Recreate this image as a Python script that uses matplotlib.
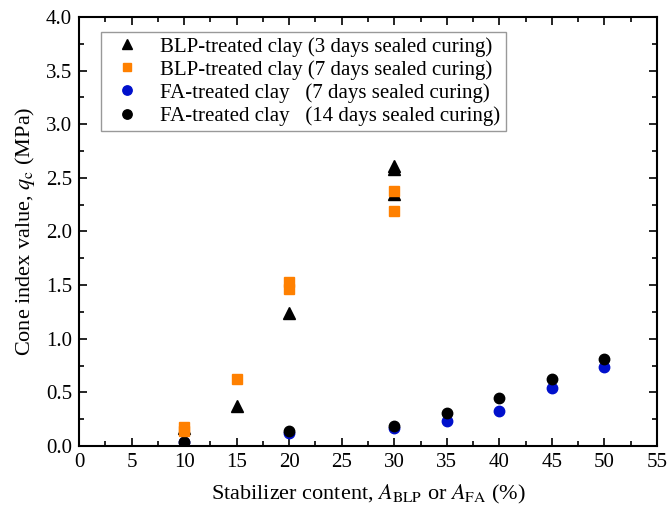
import matplotlib
matplotlib.use('Agg')
import matplotlib.pyplot as plt
from matplotlib.ticker import MultipleLocator

plt.rcParams['font.family'] = ['Liberation Serif', 'DejaVu Serif']
plt.rcParams['mathtext.fontset'] = 'stix'

# BLP-treated clay, 3 days sealed curing
blp3_x = [10, 15, 20, 30, 30, 30]
blp3_y = [0.17, 0.37, 1.24, 2.61, 2.58, 2.35]
# BLP-treated clay, 7 days sealed curing
blp7_x = [10, 10, 15, 20, 20, 30, 30]
blp7_y = [0.18, 0.14, 0.62, 1.53, 1.46, 2.38, 2.19]
# FA-treated clay, 7 days sealed curing
fa7_x = [10, 20, 30, 35, 40, 45, 50]
fa7_y = [0.04, 0.12, 0.17, 0.23, 0.33, 0.54, 0.74]
# FA-treated clay, 14 days sealed curing
fa14_x = [10, 20, 30, 35, 40, 45, 50]
fa14_y = [0.04, 0.14, 0.19, 0.31, 0.45, 0.62, 0.81]

fig = plt.figure(figsize=(6.67, 5.15), dpi=100)
ax = fig.add_axes([0.1184, 0.134, 0.8666, 0.833])

ax.plot(fa7_x, fa7_y, 'o', color='#0010CC', ms=7.5, ls='none', label='FA-treated clay   (7 days sealed curing)')
ax.plot(fa14_x, fa14_y, 'o', color='black', ms=7.5, ls='none', label='FA-treated clay   (14 days sealed curing)')
ax.plot(blp3_x, blp3_y, '^', color='black', ms=8.5, ls='none', label='BLP-treated clay (3 days sealed curing)')
ax.plot(blp7_x, blp7_y, 's', color='#FF8000', ms=7, ls='none', label='BLP-treated clay (7 days sealed curing)')

ax.set_xlim(0, 55)
ax.set_ylim(0, 4.0)
ax.xaxis.set_major_locator(MultipleLocator(5))
ax.xaxis.set_minor_locator(MultipleLocator(2.5))
ax.yaxis.set_major_locator(MultipleLocator(0.5))
ax.yaxis.set_minor_locator(MultipleLocator(0.25))
ax.yaxis.set_major_formatter(matplotlib.ticker.FormatStrFormatter('%.1f'))
ax.tick_params(which='both', direction='in', top=True, right=True, labelsize=15, width=1.2)
ax.tick_params(which='major', length=6, pad=5)
ax.tick_params(which='minor', length=3.5)
for s in ax.spines.values():
    s.set_linewidth(1.5)

ax.set_xlabel('Stabilizer content, $A_\\mathrm{BLP}$ or $A_\\mathrm{FA}$ (%)', fontsize=16, labelpad=8)
ax.set_ylabel('Cone index value, $q_\\mathrm{c}$ (MPa)', fontsize=16, labelpad=6)

h, l = ax.get_legend_handles_labels()
order = [2, 3, 0, 1]
leg = ax.legend([h[i] for i in order], [l[i] for i in order], loc='upper left',
                bbox_to_anchor=(0.02, 0.99), fontsize=15, frameon=True, fancybox=False,
                edgecolor='gray', handletextpad=0.6, labelspacing=0.16,
                borderpad=0.25, markerscale=0.9)
leg.get_frame().set_linewidth(1.0)

fig.savefig('out.png', dpi=100)
